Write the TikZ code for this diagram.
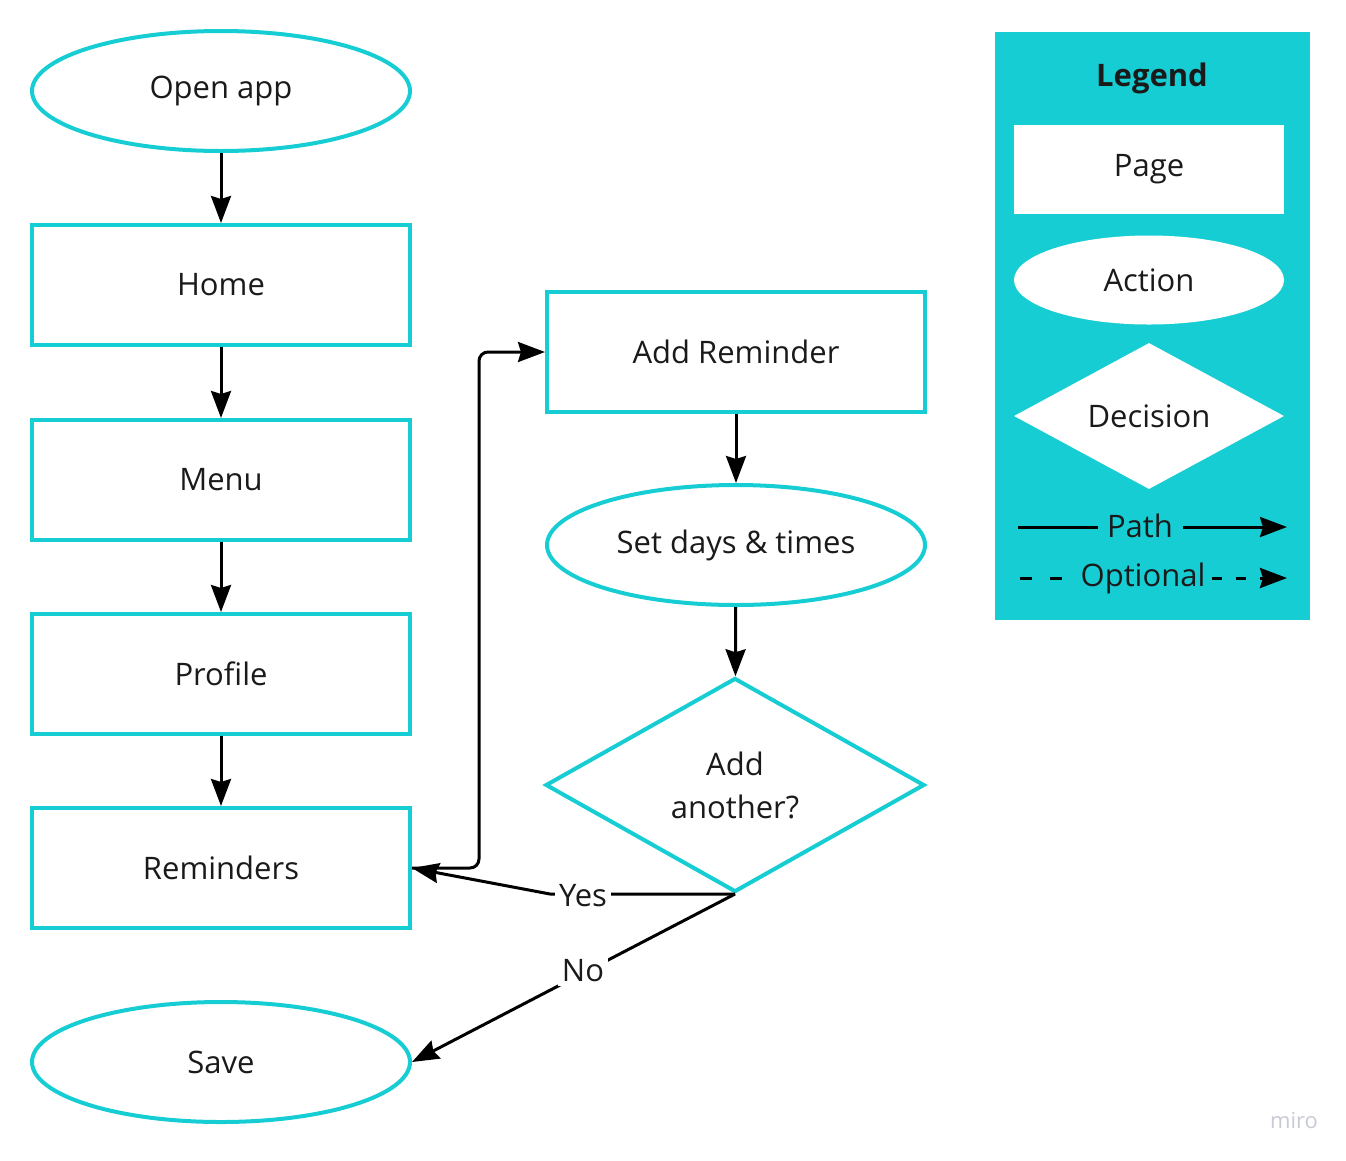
\documentclass[tikz,border=0pt]{standalone}
\usepackage{fontspec}
\setmainfont{Open Sans}
\usetikzlibrary{shapes.geometric,arrows.meta}
\definecolor{cy}{RGB}{22,205,212}
\definecolor{txt}{RGB}{26,26,26}
\begin{document}
\begin{tikzpicture}[x=1pt,y=-1pt,
  font=\fontsize{31}{43}\selectfont, text=txt,
  base/.style={line width=4pt, draw=cy, inner sep=0pt, align=center},
  pagebox/.style={base, rectangle, minimum width=378pt, minimum height=120pt},
  actbox/.style={base, ellipse, minimum width=378pt, minimum height=120pt},
  decbox/.style={base, diamond, minimum width=379pt, minimum height=214pt},
  arr/.style={line width=3pt, draw=black, -{Stealth[length=27pt,width=20pt,inset=3pt]}},
  lab/.style={fill=white, inner sep=4pt, text=txt},
  legshape/.style={fill=white, draw=none, inner sep=0pt, minimum width=270pt}
]
\useasboundingbox (0,0) rectangle (1346,1160);
% main flow
\node[actbox]  (open) at (221,91)   {Open app};
\node[pagebox] (home) at (221,285)  {Home};
\node[pagebox] (menu) at (221,480)  {Menu};
\node[pagebox] (prof) at (221,674)  {Profile};
\node[pagebox] (rem)  at (221,868)  {Reminders};
\node[actbox]  (save) at (221,1062) {Save};
\node[pagebox] (add)  at (736,352)  {Add Reminder};
\node[actbox]  (set)  at (736,545)  {Set days \& times};
\node[decbox]  (dec)  at (735,785)  {Add\\another?};

\draw[arr] (open) -- (home);
\draw[arr] (home) -- (menu);
\draw[arr] (menu) -- (prof);
\draw[arr] (prof) -- (rem);
\draw[arr] (add) -- (set);
\draw[arr] (set) -- (dec);

\coordinate (bend) at (479,600);
\draw[arr, rounded corners=9pt] (rem.east) -| (bend) |- (add.west);

\coordinate (yb) at ([xshift=-185pt]dec.south);
\draw[arr] (dec.south) -- (yb) -- (rem.east);
\node[lab] (yes) at ([xshift=-152pt,yshift=-2pt]dec.south) {Yes};
\draw[arr] (dec.south) -- (save.east);
\node[lab] (no) at (583,971) {No};

% legend
\node[fill=cy, draw=none, minimum width=315pt, minimum height=588pt, inner sep=0pt] (leg) at (1152.5,326) {};
\node[font=\fontsize{31}{35}\selectfont\bfseries] (legt) at (1152,78) {Legend};
\node[legshape, rectangle, minimum height=89pt] (lpage) at (1149,169) {Page};
\node[legshape, ellipse, minimum height=89pt] (lact) at (1149,280) {Action};
\node[legshape, diamond, minimum height=140pt] (ldec) at (1149,416) {Decision};

\node (lpath) at (1140,526) {Path};
\coordinate (pa) at (1018,527);
\coordinate (pb) at (1098,527);
\coordinate (pc) at (1183,527);
\coordinate (pd) at (1287,527);
\draw[line width=3pt] (pa) -- (pb);
\draw[arr] (pc) -- (pd);

\node (lopt) at (1143,578) {Optional};
\coordinate (oa) at (1020,578);
\coordinate (ob) at (1070,578);
\coordinate (oc) at (1212,578);
\coordinate (od) at (1287,578);
\draw[line width=3pt, dash pattern=on 12pt off 18pt] (oa) -- (ob);
\draw[arr, dash pattern=on 10pt off 14pt] (oc) -- (od);

% watermark
\node[text={rgb,255:red,200;green,202;blue,212}, font=\fontsize{22}{24}\selectfont] (miro) at (1294,1121) {miro};
\end{tikzpicture}
\end{document}
